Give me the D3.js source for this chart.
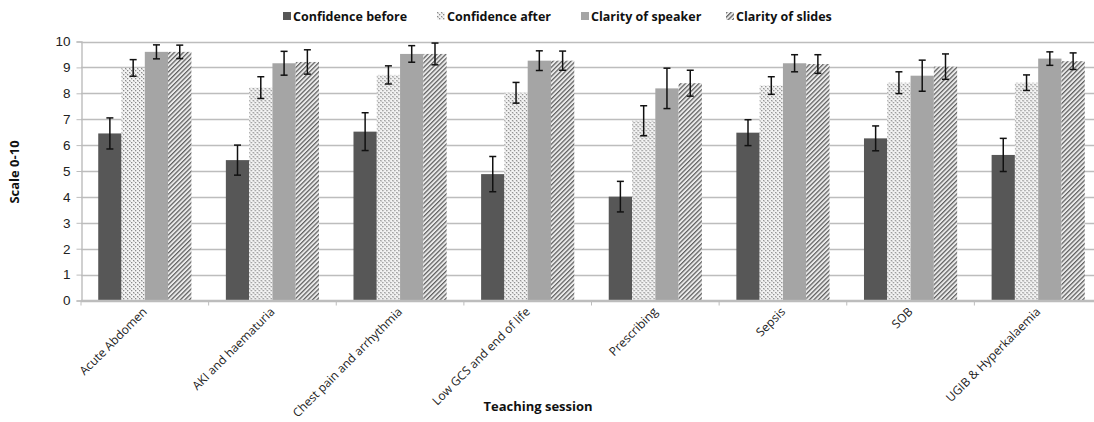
<!DOCTYPE html>
<html>
<head>
<meta charset="utf-8">
<script src="https://cdn.jsdelivr.net/npm/d3@7"></script>
<style>
  body { margin: 0; background: #fff; }
  svg { display: block; font-family: "Open Sans", "Liberation Sans", sans-serif; }
</style>
</head>
<body>
<svg id="chart" width="1094" height="422"></svg>
<script>
// sessions
var sessions = ["Acute Abdomen", "AKI and haematuria", "Chest pain and arrhythmia",
    "Low GCS and end of life", "Prescribing", "Sepsis", "SOB", "UGIB & Hyperkalaemia"];

var seriesNames = ["Confidence before", "Confidence after", "Clarity of speaker", "Clarity of slides"];

// means
var confBefore  = [6.45, 5.42, 6.52, 4.88, 4.01, 6.48, 6.26, 5.62],
    confAfter   = [8.98, 8.22, 8.71, 8.02, 6.94, 8.30, 8.41, 8.41],
    claritySpk  = [9.60, 9.16, 9.52, 9.26, 8.19, 9.16, 8.68, 9.34],
    claritySld  = [9.60, 9.21, 9.52, 9.26, 8.39, 9.13, 9.03, 9.24];

// error bar half widths
var errBefore = [0.60, 0.58, 0.73, 0.68, 0.59, 0.50, 0.48, 0.64],
    errAfter  = [0.32, 0.42, 0.35, 0.40, 0.58, 0.34, 0.42, 0.30],
    errSpk    = [0.27, 0.46, 0.32, 0.38, 0.78, 0.33, 0.60, 0.26],
    errSld    = [0.26, 0.47, 0.42, 0.37, 0.50, 0.36, 0.49, 0.32];

var yTicks = [0, 1, 2, 3, 4, 5, 6, 7, 8, 9, 10];

var values = [confBefore, confAfter, claritySpk, claritySld],
    errors = [errBefore, errAfter, errSpk, errSld];

var svg = d3.select("#chart"),
    defs = svg.append("defs");

// fills
var colorDark = "#575757",
    colorGray = "#a5a5a5",
    colorGrid = "#bdbdbd";

var dots = defs.append("pattern").attr("id", "dots")
    .attr("patternUnits", "userSpaceOnUse").attr("width", 4).attr("height", 4);
dots.append("rect").attr("width", 4).attr("height", 4).attr("fill", "#f4f4f4");
dots.append("rect").attr("x", 0).attr("y", 0).attr("width", 1.3).attr("height", 1.3).attr("fill", "#8a8a8a");
dots.append("rect").attr("x", 2).attr("y", 2).attr("width", 1.3).attr("height", 1.3).attr("fill", "#8a8a8a");
dots.append("rect").attr("x", 1).attr("y", 1).attr("width", 1).attr("height", 1).attr("fill", "#c8c8c8");

var hatch = defs.append("pattern").attr("id", "hatch")
    .attr("patternUnits", "userSpaceOnUse").attr("width", 3.2).attr("height", 3.2)
    .attr("patternTransform", "rotate(45)");
hatch.append("rect").attr("width", 3.2).attr("height", 3.2).attr("fill", "#ebebeb");
hatch.append("rect").attr("x", 0).attr("y", 0).attr("width", 1.25).attr("height", 3.2).attr("fill", "#606060");

var fills = [colorDark, "url(#dots)", colorGray, "url(#hatch)"];

var x0 = d3.scaleBand().domain(sessions).range([81, 1102]).paddingInner(0).paddingOuter(0);
var x1 = d3.scaleBand().domain(d3.range(4)).range([0, x0.bandwidth()]).paddingOuter(0.74);
var y = d3.scaleLinear().domain([0, 10]).range([300.5, 41.5]);

// gridlines
svg.append("g")
    .selectAll("line").data(yTicks).join("line")
    .attr("x1", 81).attr("x2", 1102)
    .attr("y1", function(d) { return Math.round(y(d)) + 0.5; })
    .attr("y2", function(d) { return Math.round(y(d)) + 0.5; })
    .attr("stroke", colorGrid).attr("stroke-width", 1.6);

// y axis
var yAxis = svg.append("g").attr("transform", "translate(81.5,0)")
    .call(d3.axisLeft(y).tickValues(yTicks).tickSize(5).tickPadding(6));
yAxis.select(".domain").attr("stroke", colorGrid).attr("stroke-width", 1.4);
yAxis.selectAll(".tick line").attr("stroke", colorGrid);
yAxis.selectAll("text").attr("font-size", 13.5).attr("fill", "#222");

// bars
var groups = svg.append("g").selectAll("g").data(sessions).join("g")
    .attr("transform", function(d) { return "translate(" + x0(d) + ",0)"; });

groups.each(function(s, i) {
    var g = d3.select(this);
    values.forEach(function(vals, k) {
        var v = vals[i], e = errors[k][i],
            bx = x1(k), bw = x1.bandwidth();
        g.append("rect")
            .attr("x", bx).attr("width", bw)
            .attr("y", y(v)).attr("height", y(0) - y(v))
            .attr("fill", fills[k]);
        var cx = bx + bw / 2;
        g.append("line").attr("x1", cx).attr("x2", cx)
            .attr("y1", y(v + e)).attr("y2", y(v - e))
            .attr("stroke", "#111").attr("stroke-width", 1.5);
        [v + e, v - e].forEach(function(t) {
            g.append("line").attr("x1", cx - 3.5).attr("x2", cx + 3.5)
                .attr("y1", y(t)).attr("y2", y(t))
                .attr("stroke", "#111").attr("stroke-width", 1.5);
        });
    });
});

// x axis
var xAxis = svg.append("g").attr("transform", "translate(0,300.5)");
xAxis.append("line").attr("x1", 81).attr("x2", 1102).attr("stroke", colorGrid).attr("stroke-width", 1.6);
xAxis.selectAll("line.tk").data(d3.range(sessions.length + 1)).join("line").attr("class", "tk")
    .attr("x1", function(i) { return 81 + i * x0.step(); })
    .attr("x2", function(i) { return 81 + i * x0.step(); })
    .attr("y1", 0).attr("y2", 5).attr("stroke", colorGrid);
xAxis.selectAll("text").data(sessions).join("text")
    .attr("transform", function(d) { return "translate(" + (x0(d) + x0.bandwidth() / 2 + 3) + ",12) rotate(-45)"; })
    .attr("text-anchor", "end")
    .attr("font-size", 12).attr("fill", "#222")
    .text(function(d) { return d; });

// axis titles
svg.append("text").attr("x", 538).attr("y", 411).attr("text-anchor", "middle")
    .attr("font-size", 13).attr("font-weight", "bold")
    .attr("fill", "#111").text("Teaching session");
svg.append("text").attr("transform", "translate(19,172) rotate(-90)").attr("text-anchor", "middle")
    .attr("font-size", 13).attr("font-weight", "bold")
    .attr("fill", "#111").text("Scale 0-10");

// legend
var legendX = [283, 437, 581, 726];
var legend = svg.append("g").selectAll("g").data(seriesNames).join("g")
    .attr("transform", function(d, i) { return "translate(" + legendX[i] + ",12)"; });
legend.append("rect").attr("width", 8).attr("height", 8)
    .attr("fill", function(d, i) { return fills[i]; });
legend.append("text").attr("x", 10).attr("y", 8.5)
    .attr("font-size", 12.5).attr("font-weight", "bold")
    .attr("fill", "#111").text(function(d) { return d; });
</script>
</body>
</html>
